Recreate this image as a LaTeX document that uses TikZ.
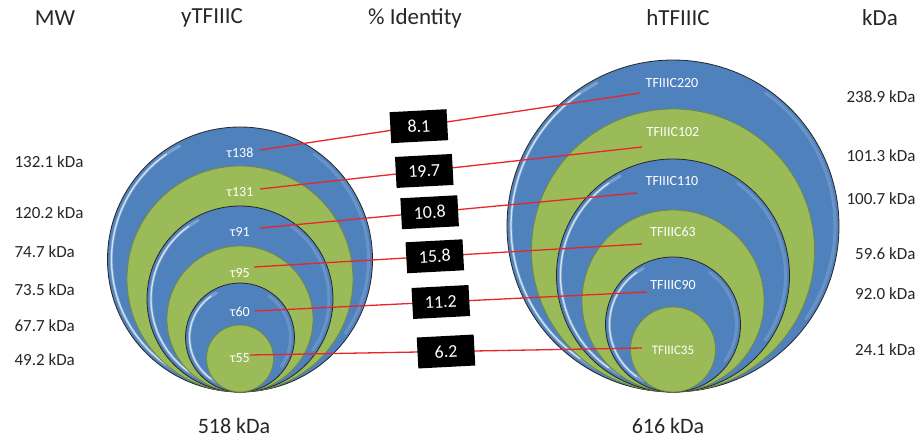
\documentclass[tikz,border=0pt]{standalone}
\usepackage{fontspec}
\setmainfont{Carlito}
\definecolor{txt}{HTML}{262626}
\definecolor{discblue}{HTML}{4F81BD}
\definecolor{discgreen}{HTML}{9BBB59}
\definecolor{greenedge}{HTML}{71893F}
\definecolor{linkred}{HTML}{E8262A}
\begin{document}
\begin{tikzpicture}[x=1pt,y=-1pt,
  head/.style={text=txt, font=\fontsize{23}{23}\selectfont},
  lbl/.style={text=txt, font=\fontsize{17}{17}\selectfont},
  bluedisc/.style={fill=discblue, draw=black!85, line width=0.8pt},
  greendisc/.style={fill=discgreen, draw=greenedge, line width=0.8pt},
  glosswide/.style={draw=white, line width=3pt, opacity=0.25, line cap=round},
  glossthin/.style={draw=white, line width=1.3pt, opacity=0.7, line cap=round},
  inlbl/.style={text=white, font=\fontsize{14}{14}\selectfont},
  link/.style={draw=linkred, line width=1.3pt},
  idbox/.style={fill=black, text=white, minimum width=57pt, minimum height=31pt,
    inner sep=0pt, rotate=3, font=\fontsize{18}{18}\selectfont}]
\useasboundingbox (0,0) rectangle (922,440);

% nested discs, all touching at the bottom point; blue ones get a bevel highlight
\foreach \cx/\r/\kind/\g in {240/132.5/blue/1, 240/113/green/0, 240/93/blue/1, 240/73/green/0,
                          240/54.5/blue/1, 240/33.5/green/0,
                          673/166/blue/1, 673/141.5/green/0, 673/116.5/blue/1, 673/91/green/0,
                          673/67.5/blue/1, 673/42.5/green/0}{
  \pgfmathsetmacro{\cy}{392-\r}
  \pgfmathsetmacro{\rr}{\r-4}
  \path[\kind disc] (\cx,\cy) circle[radius=\r];
  \ifnum\g=1
    \draw[glosswide] (\cx,\cy) ++(118:\rr) arc[start angle=118, end angle=242, radius=\rr];
    \draw[glossthin] (\cx,\cy) ++(125:\rr) arc[start angle=125, end angle=235, radius=\rr];
    \draw[glosswide, opacity=0.15] (\cx,\cy) ++(-55:\rr) arc[start angle=-55, end angle=35, radius=\rr];
  \fi
}

% column headings
\node[head] (hmw)  at (55,18)  {MW};
\node[head] (hy)   at (212,18) {yTFIIIC};
\node[head] (hid)  at (415,18) {\% Identity};
\node[head] (hh)   at (678,18) {hTFIIIC};
\node[head] (hkda) at (880,18) {kDa};

% subunit masses
\node[lbl, anchor=west] (m1) at (11,162) {132.1 kDa};
\node[lbl, anchor=west] (m2) at (11,213) {120.2 kDa};
\node[lbl, anchor=west] (m3) at (11,252) {74.7 kDa};
\node[lbl, anchor=west] (m4) at (11,290) {73.5 kDa};
\node[lbl, anchor=west] (m5) at (11,326) {67.7 kDa};
\node[lbl, anchor=west] (m6) at (11,360) {49.2 kDa};

\node[lbl, anchor=east] (k1) at (919,97)  {238.9 kDa};
\node[lbl, anchor=east] (k2) at (919,156) {101.3 kDa};
\node[lbl, anchor=east] (k3) at (919,199) {100.7 kDa};
\node[lbl, anchor=east] (k4) at (919,254) {59.6 kDa};
\node[lbl, anchor=east] (k5) at (919,294) {92.0 kDa};
\node[lbl, anchor=east] (k6) at (919,350) {24.1 kDa};

% totals
\node[head, font=\fontsize{22}{22}\selectfont] (ty) at (234,426) {518 kDa};
\node[head, font=\fontsize{22}{22}\selectfont] (th) at (668,426) {616 kDa};

% subunit names inside the discs
\node[inlbl] (y1) at (240,153) {τ138};
\node[inlbl] (y2) at (240,192) {τ131};
\node[inlbl] (y3) at (240,232) {τ91};
\node[inlbl] (y4) at (240,273) {τ95};
\node[inlbl] (y5) at (240,312) {τ60};
\node[inlbl] (y6) at (240,358) {τ55};

\node[inlbl] (h1) at (672,83)  {TFIIIC220};
\node[inlbl] (h2) at (673,132) {TFIIIC102};
\node[inlbl] (h3) at (672,181) {TFIIIC110};
\node[inlbl] (h4) at (673,232) {TFIIIC63};
\node[inlbl] (h5) at (673,285) {TFIIIC90};
\node[inlbl, font=\fontsize{13}{13}\selectfont] (h6) at (673,350) {TFIIIC35};

% ends of the connecting lines
\coordinate (ya1) at (260,150); \coordinate (ha1) at (640,93);
\coordinate (ya2) at (260,189); \coordinate (ha2) at (642,147);
\coordinate (ya3) at (260,228); \coordinate (ha3) at (637,193);
\coordinate (ya4) at (254,267); \coordinate (ha4) at (642,244);
\coordinate (ya5) at (255,311); \coordinate (ha5) at (647,292);
\coordinate (ya6) at (250,355); \coordinate (ha6) at (642,348);

% homologue links with percent identity
\draw[link] (ya1) -- node[idbox, pos=0.418] (p1) {8.1}  (ha1);
\draw[link] (ya2) -- node[idbox, pos=0.430] (p2) {19.7} (ha2);
\draw[link] (ya3) -- node[idbox, pos=0.450] (p3) {10.8} (ha3);
\draw[link] (ya4) -- node[idbox, pos=0.466] (p4) {15.8} (ha4);
\draw[link] (ya5) -- node[idbox, pos=0.474] (p5) {11.2} (ha5);
\draw[link] (ya6) -- node[idbox, pos=0.500] (p6) {6.2}  (ha6);
\end{tikzpicture}
\end{document}
